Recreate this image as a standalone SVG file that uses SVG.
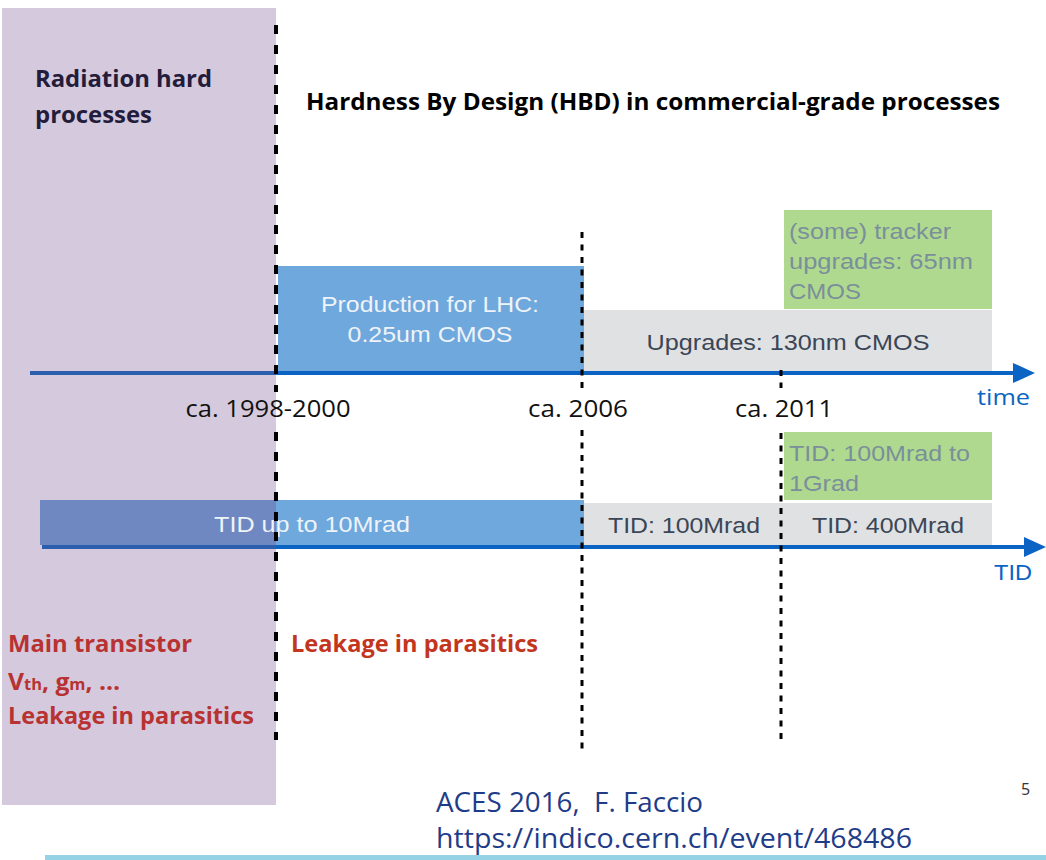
<svg xmlns="http://www.w3.org/2000/svg" width="1046" height="860" viewBox="0 0 1046 860">
<style>
.cal{font-family:"Open Sans","Liberation Sans",sans-serif;}
.hel{font-family:"Liberation Sans","Noto Sans",sans-serif;}
.b{font-weight:bold;}
.wt{fill:#eef3f9;}
.gt{fill:#3a4656;}
.grn{fill:#7a8f9a;}
.red1{fill:#b83232;}
.red2{fill:#c3361e;}
.navy{fill:#1f3c88;}
.thick{stroke:#000;stroke-width:4;stroke-dasharray:9 11;fill:none;}
.thin{stroke:#000;stroke-width:3;stroke-dasharray:6 6.5;fill:none;}
.axis{stroke:#0b63c4;stroke-width:4;fill:none;}
.axisL{stroke:#2b5fae;stroke-width:4;fill:none;}
</style>
<rect width="1046" height="860" fill="#ffffff"/>
<g id="panel-rad-hard">
<rect x="2" y="8" width="274" height="797" fill="#d5c9dd"/>
<text class="cal b" x="35" y="87" font-size="23" fill="#231c3a" textLength="177" lengthAdjust="spacingAndGlyphs">Radiation hard</text>
<text class="cal b" x="35" y="123" font-size="23" fill="#231c3a" textLength="117" lengthAdjust="spacingAndGlyphs">processes</text>
</g>
<g id="title">
<text class="cal b" x="306" y="110" font-size="23" fill="#000" textLength="694" lengthAdjust="spacingAndGlyphs">Hardness By Design (HBD) in commercial-grade processes</text>
</g>
<g id="box-lhc">
<rect x="278" y="266" width="306" height="106" fill="#6fa8dc"/>
<text class="hel wt" x="430" y="312" font-size="22" text-anchor="middle" textLength="218" lengthAdjust="spacingAndGlyphs">Production for LHC:</text>
<text class="hel wt" x="430" y="342" font-size="22" text-anchor="middle" textLength="165" lengthAdjust="spacingAndGlyphs">0.25um CMOS</text>
</g>
<g id="box-130nm">
<rect x="584" y="310" width="408" height="62" fill="#e0e1e3"/>
<text class="hel gt" x="788" y="350" font-size="22" text-anchor="middle" textLength="283" lengthAdjust="spacingAndGlyphs">Upgrades: 130nm CMOS</text>
</g>
<g id="box-65nm">
<rect x="784" y="210" width="208" height="99" fill="#b0d990"/>
<text class="hel grn" x="789" y="239" font-size="22" textLength="162" lengthAdjust="spacingAndGlyphs">(some) tracker</text>
<text class="hel grn" x="789" y="269" font-size="22" textLength="184" lengthAdjust="spacingAndGlyphs">upgrades: 65nm</text>
<text class="hel grn" x="789" y="299" font-size="22" textLength="72" lengthAdjust="spacingAndGlyphs">CMOS</text>
</g>
<g id="box-tid10">
<rect x="40" y="500" width="236" height="45" fill="#6f88c2"/>
<rect x="276" y="500" width="308" height="45" fill="#6fa8dc"/>
<text class="hel" x="214" y="532" font-size="22" fill="#eef3f9" textLength="196" lengthAdjust="spacingAndGlyphs">TID up to 10Mrad</text>
</g>
<g id="box-tid100">
<rect x="584" y="503" width="197" height="42" fill="#e0e1e3"/>
<text class="hel gt" x="684" y="533" font-size="22" text-anchor="middle" textLength="152" lengthAdjust="spacingAndGlyphs">TID: 100Mrad</text>
</g>
<g id="box-tid400">
<rect x="781" y="503" width="211" height="42" fill="#e0e1e3"/>
<text class="hel gt" x="888" y="533" font-size="22" text-anchor="middle" textLength="152" lengthAdjust="spacingAndGlyphs">TID: 400Mrad</text>
</g>
<g id="box-tid1g">
<rect x="784" y="432" width="208" height="68" fill="#b0d990"/>
<text class="hel grn" x="789" y="461" font-size="22" textLength="181" lengthAdjust="spacingAndGlyphs">TID: 100Mrad to</text>
<text class="hel grn" x="789" y="491" font-size="22" textLength="70" lengthAdjust="spacingAndGlyphs">1Grad</text>
</g>
<g id="connectors">
<line class="axisL" x1="30" y1="373" x2="276" y2="373"/>
<line class="axis" x1="276" y1="373" x2="1015" y2="373"/>
<polygon points="1013,363 1035,373 1013,383" fill="#0b63c4"/>
<line class="axisL" x1="42" y1="547" x2="276" y2="547"/>
<line class="axis" x1="276" y1="547" x2="1026" y2="547"/>
<polygon points="1024,537 1046,547 1024,557" fill="#0b63c4"/>
<line class="thick" x1="276" y1="25" x2="276" y2="392"/>
<line class="thick" x1="276" y1="432" x2="276" y2="740"/>
<line class="thin" x1="582" y1="232" x2="582" y2="388"/>
<line class="thin" x1="582" y1="430" x2="582" y2="752"/>
<line class="thin" x1="781" y1="370" x2="781" y2="388"/>
<line class="thin" x1="781" y1="433" x2="781" y2="740"/>
</g>
<g id="axis-labels">
<text class="cal" x="268" y="417" font-size="23" fill="#111" text-anchor="middle" textLength="165" lengthAdjust="spacingAndGlyphs">ca. 1998-2000</text>
<text class="cal" x="578" y="417" font-size="23" fill="#111" text-anchor="middle" textLength="100" lengthAdjust="spacingAndGlyphs">ca. 2006</text>
<text class="cal" x="784" y="417" font-size="23" fill="#111" text-anchor="middle" textLength="98" lengthAdjust="spacingAndGlyphs">ca. 2011</text>
<text class="cal" x="977" y="405" font-size="22" fill="#0b63c4" textLength="53" lengthAdjust="spacingAndGlyphs">time</text>
<text class="hel" x="994" y="580" font-size="22" fill="#0b63c4" textLength="38" lengthAdjust="spacingAndGlyphs">TID</text>
</g>
<g id="effects">
<text class="cal b red1" x="8" y="652" font-size="23" textLength="184" lengthAdjust="spacingAndGlyphs">Main transistor</text>
<text class="cal b red1" x="8" y="690" font-size="24" textLength="112" lengthAdjust="spacingAndGlyphs">V<tspan font-size="16">th</tspan>, g<tspan font-size="16">m</tspan>, …</text>
<text class="cal b red1" x="8" y="724" font-size="23" textLength="246" lengthAdjust="spacingAndGlyphs">Leakage in parasitics</text>
<text class="cal b red2" x="291" y="652" font-size="23" textLength="247" lengthAdjust="spacingAndGlyphs">Leakage in parasitics</text>
</g>
<g id="footer">
<text class="cal navy" x="436" y="812" font-size="28" xml:space="preserve" textLength="267" lengthAdjust="spacingAndGlyphs">ACES 2016,  F. Faccio</text>
<text class="cal navy" x="436" y="848" font-size="28" textLength="476" lengthAdjust="spacingAndGlyphs">https://indico.cern.ch/event/468486</text>
<text class="cal" x="1021" y="795" font-size="16" fill="#333">5</text>
<rect x="45" y="855" width="1001" height="5" fill="#96d2e6"/>
</g>
</svg>
